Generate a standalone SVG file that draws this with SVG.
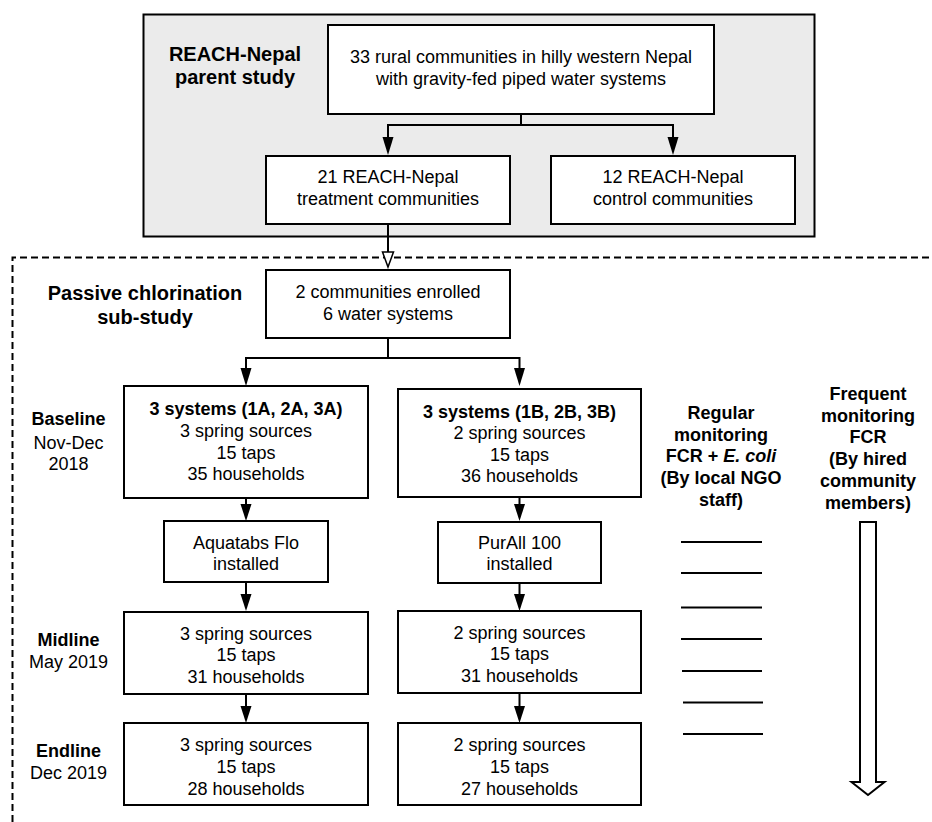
<svg xmlns="http://www.w3.org/2000/svg" width="932" height="822" viewBox="0 0 932 822">
<defs>
<style>
.box{fill:#fff;stroke:#000;stroke-width:2}
.t{font-family:"Liberation Sans",Arial,sans-serif;font-size:18px;fill:#000;text-anchor:middle}
.b{font-family:"Liberation Sans",Arial,sans-serif;font-weight:bold;fill:#000;text-anchor:middle}
.ln{fill:none;stroke:#000;stroke-width:2}
.tick{stroke:#000;stroke-width:2}
</style>
</defs>
<rect width="932" height="822" fill="#fff"/>
<g id="parent-study">
<rect x="143.5" y="14.5" width="671" height="222" fill="#ebebeb" stroke="#000" stroke-width="2"/>
<text class="b" font-size="20" x="235" y="61">REACH-Nepal</text>
<text class="b" font-size="20" x="235" y="84">parent study</text>
</g>
<g id="substudy-frame">
<path d="M12.5,822 V257.5 H932" fill="none" stroke="#000" stroke-width="2" stroke-dasharray="7,4"/>
<text class="b" font-size="20" x="145" y="300">Passive chlorination</text>
<text class="b" font-size="20" x="145" y="324">sub-study</text>
</g>
<g id="connectors">
<path class="ln" d="M521,114 V125 H388 V137"/>
<path class="ln" d="M521,125 H673 V137"/>
<path d="M382.5,137 L393.5,137 L388,155 Z"/>
<path d="M667.5,137 L678.5,137 L673,155 Z"/>
<path class="ln" d="M388,224 V266"/>
<path d="M382.5,252 L393.5,252 L388,267 Z" fill="#fff" stroke="#000" stroke-width="1.5"/>
<path class="ln" d="M388,338 V358 H246 V368"/>
<path class="ln" d="M388,358 H519.5 V368"/>
<path d="M240.5,368 L251.5,368 L246,386 Z"/>
<path d="M514,368 L525,368 L519.5,386 Z"/>
<path class="ln" d="M246,498 V504"/>
<path d="M240.5,504 L251.5,504 L246,521 Z"/>
<path class="ln" d="M519.5,497 V504"/>
<path d="M514,504 L525,504 L519.5,521 Z"/>
<path class="ln" d="M246,582 V594"/>
<path d="M240.5,594 L251.5,594 L246,611 Z"/>
<path class="ln" d="M519.5,582 V594"/>
<path d="M514,594 L525,594 L519.5,611 Z"/>
<path class="ln" d="M246,693 V706"/>
<path d="M240.5,706 L251.5,706 L246,723 Z"/>
<path class="ln" d="M519.5,693 V706"/>
<path d="M514,706 L525,706 L519.5,723 Z"/>
</g>
<g id="n-all">
<rect class="box" x="328" y="25" width="386" height="89"/>
<text class="t" x="521" y="63">33 rural communities in hilly western Nepal</text>
<text class="t" x="521" y="85">with gravity-fed piped water systems</text>
</g>
<g id="n-treatment">
<rect class="box" x="266" y="156" width="244" height="68"/>
<text class="t" x="388" y="183">21 REACH-Nepal</text>
<text class="t" x="388" y="205">treatment communities</text>
</g>
<g id="n-control">
<rect class="box" x="551" y="156" width="244" height="68"/>
<text class="t" x="673" y="183">12 REACH-Nepal</text>
<text class="t" x="673" y="205">control communities</text>
</g>
<g id="n-enrolled">
<rect class="box" x="266" y="270" width="244" height="68"/>
<text class="t" x="388" y="298">2 communities enrolled</text>
<text class="t" x="388" y="320">6 water systems</text>
</g>
<g id="l-baseline">
<text class="b" font-size="18" x="68.5" y="425">Baseline</text>
<text class="t" x="68.5" y="449">Nov-Dec</text>
<text class="t" x="68.5" y="470">2018</text>
</g>
<g id="n-base-a">
<rect class="box" x="124" y="386" width="244" height="112"/>
<text class="b" font-size="18" x="246" y="415">3 systems (1A, 2A, 3A)</text>
<text class="t" x="246" y="437">3 spring sources</text>
<text class="t" x="246" y="459">15 taps</text>
<text class="t" x="246" y="480">35 households</text>
</g>
<g id="n-base-b">
<rect class="box" x="398" y="389" width="243" height="108"/>
<text class="b" font-size="18" x="519.5" y="418">3 systems (1B, 2B, 3B)</text>
<text class="t" x="519.5" y="439">2 spring sources</text>
<text class="t" x="519.5" y="461">15 taps</text>
<text class="t" x="519.5" y="482">36 households</text>
</g>
<g id="n-aquatabs">
<rect class="box" x="164" y="521" width="164" height="61"/>
<text class="t" x="246" y="549">Aquatabs Flo</text>
<text class="t" x="246" y="570">installed</text>
</g>
<g id="n-purall">
<rect class="box" x="438" y="522" width="163" height="61"/>
<text class="t" x="519.5" y="549">PurAll 100</text>
<text class="t" x="519.5" y="570">installed</text>
</g>
<g id="l-midline">
<text class="b" font-size="18" x="68.5" y="646">Midline</text>
<text class="t" x="68.5" y="668">May 2019</text>
</g>
<g id="n-mid-a">
<rect class="box" x="124" y="612" width="244" height="82"/>
<text class="t" x="246" y="640">3 spring sources</text>
<text class="t" x="246" y="661">15 taps</text>
<text class="t" x="246" y="683">31 households</text>
</g>
<g id="n-mid-b">
<rect class="box" x="398" y="611" width="243" height="82"/>
<text class="t" x="519.5" y="639">2 spring sources</text>
<text class="t" x="519.5" y="660">15 taps</text>
<text class="t" x="519.5" y="682">31 households</text>
</g>
<g id="l-endline">
<text class="b" font-size="18" x="68.5" y="757">Endline</text>
<text class="t" x="68.5" y="779">Dec 2019</text>
</g>
<g id="n-end-a">
<rect class="box" x="124" y="723" width="244" height="82"/>
<text class="t" x="246" y="751">3 spring sources</text>
<text class="t" x="246" y="773">15 taps</text>
<text class="t" x="246" y="795">28 households</text>
</g>
<g id="n-end-b">
<rect class="box" x="398" y="723" width="243" height="82"/>
<text class="t" x="519.5" y="751">2 spring sources</text>
<text class="t" x="519.5" y="773">15 taps</text>
<text class="t" x="519.5" y="795">27 households</text>
</g>
<g id="regular-monitoring">
<text class="b" font-size="18" x="721" y="419">Regular</text>
<text class="b" font-size="18" x="721" y="441">monitoring</text>
<text class="b" font-size="18" x="721" y="462">FCR + <tspan font-style="italic">E. coli</tspan></text>
<text class="b" font-size="18" x="721" y="484">(By local NGO</text>
<text class="b" font-size="18" x="721" y="506">staff)</text>
<line class="tick" x1="681" y1="542" x2="762" y2="542"/>
<line class="tick" x1="681" y1="573" x2="762" y2="573"/>
<line class="tick" x1="681" y1="607.5" x2="762" y2="607.5"/>
<line class="tick" x1="681" y1="639" x2="762" y2="639"/>
<line class="tick" x1="682" y1="671" x2="762" y2="671"/>
<line class="tick" x1="683" y1="702.5" x2="763" y2="702.5"/>
<line class="tick" x1="683" y1="734" x2="763" y2="734"/>
</g>
<g id="frequent-monitoring">
<text class="b" font-size="18" x="868" y="400">Frequent</text>
<text class="b" font-size="18" x="868" y="421.5">monitoring</text>
<text class="b" font-size="18" x="868" y="443">FCR</text>
<text class="b" font-size="18" x="868" y="465">(By hired</text>
<text class="b" font-size="18" x="868" y="487">community</text>
<text class="b" font-size="18" x="868" y="509">members)</text>
<path d="M860,522 H876 V782 H884.5 L868,795 L851.5,782 H860 Z" fill="#fff" stroke="#000" stroke-width="2" stroke-linejoin="miter"/>
</g>
</svg>
